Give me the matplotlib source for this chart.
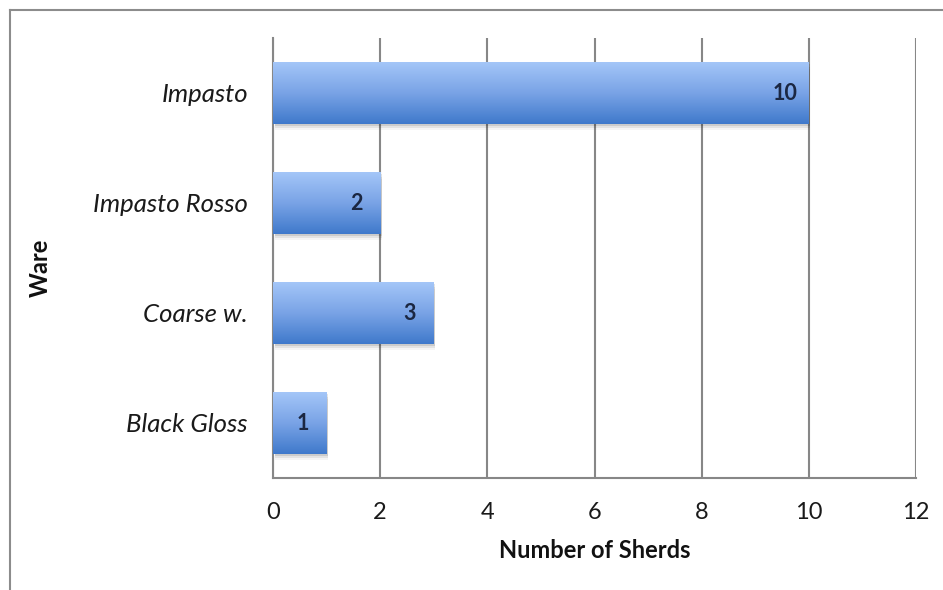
import matplotlib.pyplot as plt
import numpy as np
from matplotlib.colors import LinearSegmentedColormap
from matplotlib.patches import Rectangle

wares = ["Black Gloss", "Coarse w.", "Impasto Rosso", "Impasto"]
sherds = [1, 3, 2, 10]
xticks = [0, 2, 4, 6, 8, 10, 12]

plt.rcParams['font.family'] = ['Lato', 'DejaVu Sans']

fig = plt.figure(figsize=(9.43, 5.9), dpi=100)
ax = fig.add_axes([273/943, 1 - 478/590, (916 - 273)/943, (478 - 38)/590])

grey = "#878787"
ax.set_xlim(0, 12)
ax.set_ylim(-0.5, len(wares) - 0.5)
ax.set_xticks(xticks)
ax.set_yticks(range(len(wares)))
ax.set_yticklabels(wares, fontsize=18.5, style='italic', color='#1a1a1a')
ax.tick_params(axis='x', length=0, pad=17, labelsize=17, labelcolor='#1a1a1a')
ax.tick_params(axis='y', length=0, pad=18)
ax.grid(axis='x', color=grey, linewidth=1.5)
ax.set_axisbelow(True)
for s in ['top', 'right']:
    ax.spines[s].set_visible(False)
for s in ['left', 'bottom']:
    ax.spines[s].set_color(grey)
    ax.spines[s].set_linewidth(1.5)

cmap = LinearSegmentedColormap.from_list("bar", ["#3f79cb", "#79a3e6", "#a4c6f8"])
grad = np.linspace(0, 1, 256).reshape(-1, 1)
h = 0.56
for i, v in enumerate(sherds):
    # soft shadow
    for k, a in enumerate([0.10, 0.07, 0.04]):
        off = 0.02 + 0.02 * k
        ax.add_patch(Rectangle((0.03, i - h/2 - off), v, h, color='black',
                               alpha=a, linewidth=0, zorder=2))
    ax.imshow(grad, cmap=cmap, aspect='auto', origin='lower',
              extent=[0, v, i - h/2, i + h/2], zorder=3)
    ax.text(v - 0.45, i, str(v), ha='center', va='center', fontsize=15.5,
            fontweight='bold', color='#1b2742', zorder=4)
ax.set_xlim(0, 12)
ax.set_ylim(-0.5, len(wares) - 0.5)

fig.text(40/943, 1 - 268/590, "Ware", rotation=90, ha='center', va='center',
         fontsize=17, fontweight='bold', color='#111111')
fig.text(595/943, 1 - 550/590, "Number of Sherds", ha='center', va='center',
         fontsize=17, fontweight='bold', color='#111111')

# outer chart border (left and top visible)
fig.add_artist(plt.Line2D([10/943, 1], [1 - 10/590, 1 - 10/590], color='#8c8c8c', linewidth=1.5))
fig.add_artist(plt.Line2D([10/943, 10/943], [0, 1 - 10/590], color='#8c8c8c', linewidth=1.5))

fig.savefig("out.png", dpi=100)
